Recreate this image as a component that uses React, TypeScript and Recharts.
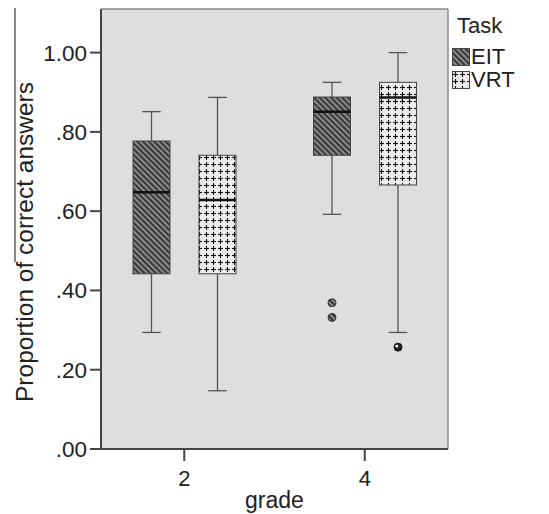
import React from 'react';
import { ComposedChart, Bar, XAxis, YAxis, CartesianGrid } from 'recharts';

const grades = ['2', '4'];
const tasks = ['EIT', 'VRT'];
const yTicks = [0, 0.2, 0.4, 0.6, 0.8, 1.0];

// five-number summaries per grade
const eitMin = [0.294, 0.592];
const eitQ1 = [0.442, 0.741];
const eitMed = [0.648, 0.851];
const eitQ3 = [0.777, 0.888];
const eitMax = [0.851, 0.925];
const eitOut = [[], [0.369, 0.332]];

const vrtMin = [0.147, 0.294];
const vrtQ1 = [0.442, 0.666];
const vrtMed = [0.628, 0.887];
const vrtQ3 = [0.741, 0.925];
const vrtMax = [0.887, 1.0];
const vrtOut = [[], [0.257]];

const stats = {
  EIT: { min: eitMin, q1: eitQ1, med: eitMed, q3: eitQ3, max: eitMax, out: eitOut, fill: 'url(#hatchEIT)' },
  VRT: { min: vrtMin, q1: vrtQ1, med: vrtMed, q3: vrtQ3, max: vrtMax, out: vrtOut, fill: 'url(#plusVRT)' },
};

const data = grades.map((g, i) => ({ grade: g, i }));

const fmt = (v: number) => v.toFixed(2).replace(/^0/, '');

function BoxShape(props: any, task: 'EIT' | 'VRT') {
  const { x, y, width, height, payload } = props;
  const s = stats[task];
  const i = payload.i;
  const top = Math.min(y, y + height);
  const h = Math.abs(height);
  const k = h / (s.q3[i] - s.q1[i]);
  const py = (v: number) => top + (s.q3[i] - v) * k;
  const cx = x + width / 2;
  const cap = width / 4;
  const wc = '#555';
  return (
    <g>
      <line x1={cx} x2={cx} y1={py(s.max[i])} y2={top} stroke={wc} strokeWidth={1.3} />
      <line x1={cx - cap} x2={cx + cap} y1={py(s.max[i])} y2={py(s.max[i])} stroke={wc} strokeWidth={1.3} />
      <line x1={cx} x2={cx} y1={top + h} y2={py(s.min[i])} stroke={wc} strokeWidth={1.3} />
      <line x1={cx - cap} x2={cx + cap} y1={py(s.min[i])} y2={py(s.min[i])} stroke={wc} strokeWidth={1.3} />
      <rect x={x} y={top} width={width} height={h} fill={s.fill} stroke="#444" strokeWidth={1} />
      <line x1={x} x2={x + width} y1={py(s.med[i])} y2={py(s.med[i])} stroke="#111" strokeWidth={2.5} />
      {s.out[i].map((v, j) =>
        task === 'EIT' ? (
          <circle key={j} cx={cx} cy={py(v)} r={4} fill="url(#hatchEIT)" stroke="#333" strokeWidth={1} />
        ) : (
          <g key={j}>
            <circle cx={cx} cy={py(v)} r={4} fill="#222" stroke="#111" strokeWidth={1} />
            <circle cx={cx - 1.2} cy={py(v) - 1} r={1.4} fill="#fff" />
          </g>
        )
      )}
    </g>
  );
}

function Swatch({ fill }: { fill: string }) {
  return (
    <svg width={18} height={18} style={{ display: 'block' }}>
      <rect x={0.5} y={0.5} width={17} height={17} fill={fill} stroke="#444" strokeWidth={1} />
    </svg>
  );
}

export default function App() {
  const font = '"Liberation Sans", Arial, sans-serif';
  return (
    <div style={{ position: 'absolute', left: 0, top: 0, width: 549, height: 514, background: '#fff', fontFamily: font }}>
      <svg width={0} height={0} style={{ position: 'absolute' }}>
        <defs>
          <pattern id="hatchEIT" patternUnits="userSpaceOnUse" width={4} height={4} patternTransform="rotate(-45)">
            <rect width={4} height={4} fill="#8a8a8a" />
            <rect width={2} height={4} fill="#383838" />
          </pattern>
          <pattern id="plusVRT" patternUnits="userSpaceOnUse" width={7} height={7}>
            <rect width={7} height={7} fill="#ececec" />
            <line x1={1} x2={6} y1={3.5} y2={3.5} stroke="#111" strokeWidth={1.1} />
            <line x1={3.5} x2={3.5} y1={1} y2={6} stroke="#111" strokeWidth={1.1} />
          </pattern>
        </defs>
      </svg>

      {/* thin rule left of the axis title, as in the source image */}
      <div style={{ position: 'absolute', left: 14, top: 8, width: 1.5, height: 254, background: '#888' }} />

      <ComposedChart
        width={549}
        height={514}
        data={data}
        margin={{ top: 9, right: 101, bottom: 0, left: 0 }}
        barSize={37}
        barGap={29}
      >
        <CartesianGrid
          fill="#dedede"
          stroke="#8a8a8a"
          strokeWidth={1.5}
          horizontalCoordinatesGenerator={({ offset }: any) => [offset.top, offset.top + offset.height]}
          verticalCoordinatesGenerator={({ offset }: any) => [offset.left, offset.left + offset.width]}
        />
        <XAxis
          dataKey="grade"
          height={65}
          padding={{ left: -7, right: -7 }}
          tickSize={12}
          tickMargin={9}
          axisLine={{ stroke: '#444', strokeWidth: 2 }}
          tickLine={{ stroke: '#444', strokeWidth: 2 }}
          tick={{ fill: '#222', fontSize: 22, fontFamily: font }}
          label={({ viewBox }: any) => (
            <text x={viewBox.x + viewBox.width / 2} y={viewBox.y + 59} textAnchor="middle" fill="#222" fontSize={23} fontFamily={font}>
              grade
            </text>
          )}
        />
        <YAxis
          type="number"
          domain={[0, 1.11]}
          ticks={yTicks}
          width={101}
          tickFormatter={fmt}
          tickSize={11}
          tickMargin={3}
          axisLine={{ stroke: '#444', strokeWidth: 2 }}
          tickLine={{ stroke: '#444', strokeWidth: 2 }}
          tick={{ fill: '#222', fontSize: 22.5, fontFamily: font }}
          label={({ viewBox }: any) => {
            const cy = viewBox.y + viewBox.height / 2 + 13;
            return (
              <text x={33} y={cy} transform={`rotate(-90 33 ${cy})`} textAnchor="middle" fill="#222" fontSize={24.5} fontFamily={font}>
                Proportion of correct answers
              </text>
            );
          }}
        />
        <Bar dataKey={(d: any) => [eitQ1[d.i], eitQ3[d.i]]} name={tasks[0]} isAnimationActive={false} shape={(p: any) => BoxShape(p, 'EIT')} />
        <Bar dataKey={(d: any) => [vrtQ1[d.i], vrtQ3[d.i]]} name={tasks[1]} isAnimationActive={false} shape={(p: any) => BoxShape(p, 'VRT')} />
      </ComposedChart>

      <div style={{ position: 'absolute', left: 452, top: 14, color: '#222', fontSize: 22, lineHeight: '24px' }}>
        <div style={{ marginLeft: 5, marginBottom: 7 }}>Task</div>
        {tasks.map((t) => (
          <div key={t} style={{ display: 'flex', alignItems: 'center', height: 23 }}>
            <Swatch fill={stats[t as 'EIT' | 'VRT'].fill} />
            <span style={{ marginLeft: 1 }}>{t}</span>
          </div>
        ))}
      </div>
    </div>
  );
}
